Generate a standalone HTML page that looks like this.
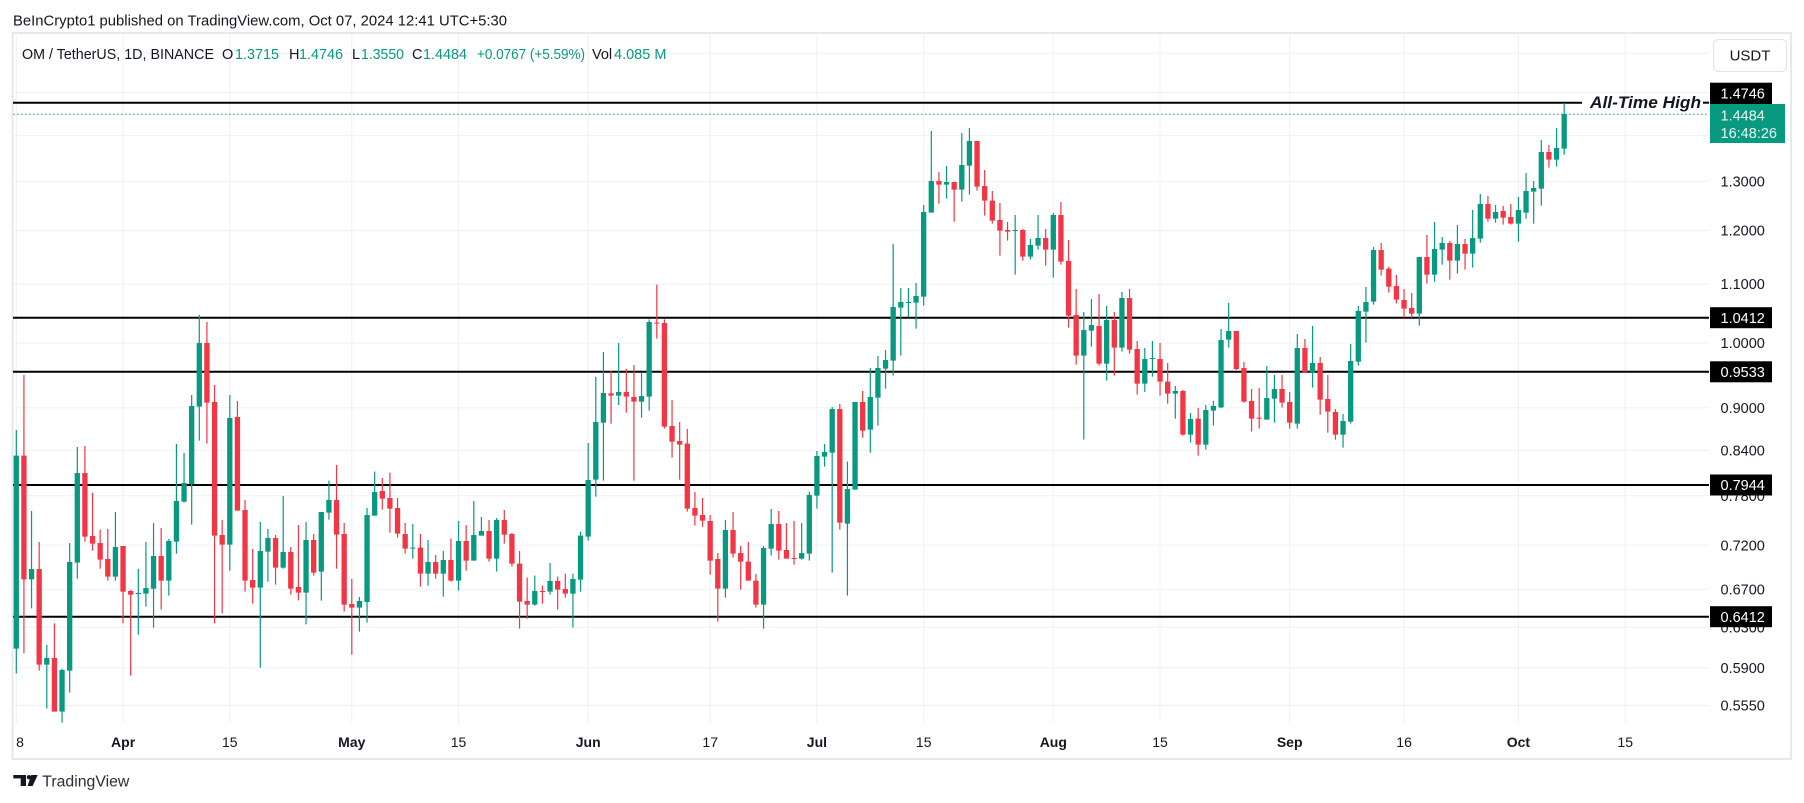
<!DOCTYPE html>
<html><head><meta charset="utf-8"><style>
html,body{margin:0;padding:0;background:#fff;}
svg{display:block;}
text{font-family:"Liberation Sans",sans-serif;}
.gw{stroke:#089981;stroke-width:0.157;fill:none}
.gb{stroke:#089981;stroke-width:0.695;fill:none}
.rw{stroke:#F23645;stroke-width:0.157;fill:none}
.rb{stroke:#F23645;stroke-width:0.695;fill:none}
.grid line{stroke:#eef0f4;stroke-width:1}
.pl{font-size:14.5px;fill:#131722}
.dl{font-size:14px;fill:#131722;text-anchor:middle}
.dm{font-size:14px;fill:#131722;text-anchor:middle;font-weight:bold}
.bx{font-size:14.5px;fill:#fff}
</style></head><body>
<svg width="1804" height="803" viewBox="0 0 1804 803" xmlns="http://www.w3.org/2000/svg">
<rect x="0" y="0" width="1804" height="803" fill="#fff"/>
<text x="13" y="25.5" font-size="15" fill="#131722" textLength="494" lengthAdjust="spacingAndGlyphs">BeInCrypto1 published on TradingView.com, Oct 07, 2024 12:41 UTC+5:30</text>

<!-- frame -->
<rect x="12.5" y="33" width="1778.5" height="726" fill="none" stroke="#e6e8ee" stroke-width="2"/>

<!-- grid -->
<g class="grid">
<line x1="13" x2="1709" y1="705.4" y2="705.4"/>
<line x1="13" x2="1709" y1="667.7" y2="667.7"/>
<line x1="13" x2="1709" y1="627.3" y2="627.3"/>
<line x1="13" x2="1709" y1="589.4" y2="589.4"/>
<line x1="13" x2="1709" y1="545.1" y2="545.1"/>
<line x1="13" x2="1709" y1="495.8" y2="495.8"/>
<line x1="13" x2="1709" y1="450.4" y2="450.4"/>
<line x1="13" x2="1709" y1="407.9" y2="407.9"/>
<line x1="13" x2="1709" y1="343" y2="343"/>
<line x1="13" x2="1709" y1="284.2" y2="284.2"/>
<line x1="13" x2="1709" y1="230.6" y2="230.6"/>
<line x1="13" x2="1709" y1="181.4" y2="181.4"/>
<line x1="13" x2="1709" y1="135.6" y2="135.6"/>
<line x1="13" x2="1709" y1="92.5" y2="92.5"/>
<line x1="13" x2="1709" y1="53.2" y2="53.2"/>
<line y1="34" y2="723" x1="16.3" x2="16.3"/>
<line y1="34" y2="723" x1="123.1" x2="123.1"/>
<line y1="34" y2="723" x1="229.8" x2="229.8"/>
<line y1="34" y2="723" x1="351.8" x2="351.8"/>
<line y1="34" y2="723" x1="458.5" x2="458.5"/>
<line y1="34" y2="723" x1="588.2" x2="588.2"/>
<line y1="34" y2="723" x1="710.2" x2="710.2"/>
<line y1="34" y2="723" x1="816.9" x2="816.9"/>
<line y1="34" y2="723" x1="923.7" x2="923.7"/>
<line y1="34" y2="723" x1="1053.3" x2="1053.3"/>
<line y1="34" y2="723" x1="1160" x2="1160"/>
<line y1="34" y2="723" x1="1289.7" x2="1289.7"/>
<line y1="34" y2="723" x1="1404.1" x2="1404.1"/>
<line y1="34" y2="723" x1="1518.4" x2="1518.4"/>
<line y1="34" y2="723" x1="1625.2" x2="1625.2"/>
</g>

<!-- legend -->
<g font-size="14.5">
<text x="22" y="59" fill="#131722" textLength="192" lengthAdjust="spacingAndGlyphs">OM / TetherUS, 1D, BINANCE</text>
<text x="222" y="59" fill="#131722">O</text><text x="235" y="59" fill="#089981" textLength="44" lengthAdjust="spacingAndGlyphs">1.3715</text>
<text x="289" y="59" fill="#131722">H</text><text x="299" y="59" fill="#089981" textLength="44" lengthAdjust="spacingAndGlyphs">1.4746</text>
<text x="352" y="59" fill="#131722">L</text><text x="361" y="59" fill="#089981" textLength="43" lengthAdjust="spacingAndGlyphs">1.3550</text>
<text x="412" y="59" fill="#131722">C</text><text x="423" y="59" fill="#089981" textLength="44" lengthAdjust="spacingAndGlyphs">1.4484</text>
<text x="477" y="59" fill="#089981" textLength="108" lengthAdjust="spacingAndGlyphs">+0.0767 (+5.59%)</text>
<text x="592" y="59" fill="#131722">Vol</text><text x="614" y="59" fill="#089981">4.085 M</text>
</g>

<!-- level lines -->
<line x1="13" x2="1582" y1="102.7" y2="102.7" stroke="#000" stroke-width="2"/>
<line x1="1703" x2="1709" y1="102.7" y2="102.7" stroke="#000" stroke-width="2"/>
<text x="1590" y="108" font-size="17" font-weight="bold" font-style="italic" fill="#131722" textLength="111" lengthAdjust="spacingAndGlyphs">All-Time High</text>
<line x1="13" x2="1709" y1="114.3" y2="114.3" stroke="#089981" stroke-width="1" stroke-dasharray="1.5 2.5"/>
<line x1="13" x2="1709" y1="317.7" y2="317.7" stroke="#000" stroke-width="2"/>
<line x1="13" x2="1709" y1="371.8" y2="371.8" stroke="#000" stroke-width="2"/>
<line x1="13" x2="1709" y1="485" y2="485" stroke="#000" stroke-width="2"/>
<line x1="13" x2="1709" y1="616.7" y2="616.7" stroke="#000" stroke-width="2"/>

<!-- candles chunk A -->
<g transform="translate(16.3,300) scale(7.625,0.333333)">
<path class="gw" d="M0 390V1120M2 633V925M4 1035V1225M6 1106V1268M7 729V1178M8 441V836M13 636V842M16 807V1004M17 726V920M18 669V983M20 717V887M21 432V761M22 459V608M23 285V674M24 45V422M28 285V812M32 666V1103M33 687V845M35 588V806M38 666V973"/>
<path class="gb" d="M0 467V1046M2 807V838M4 1074V1094M6 1110V1235M7 786V1112M8 519V788M13 741V830M16 879V882M17 864V881M18 768V866M20 723V842M21 603V725M22 549V605M23 318V552M24 129V320M28 354V734M32 753V863M33 714V755M35 756V803M38 720V878"/>
<path class="rw" d="M1 225V1060M3 726V1112M5 970V1235M9 438V725M10 578V752M11 689V806M12 687V842M14 738V970M15 870V1127M19 684V929M25 66V431M26 255V970M27 660V940M29 303V632M30 600V875M31 747V911M34 705V854M36 741V884M37 675V901"/>
<path class="rb" d="M1 467V838M3 807V1094M5 1074V1235M9 519V710M10 708V731M11 729V779M12 777V830M14 738V875M15 873V884M19 768V842M25 129V308M26 306V707M27 705V734M29 351V632M30 630V842M31 840V863M34 714V803M36 756V866M37 861V878"/>
</g>
<!-- chunk B -->
<g transform="translate(16.3,270) scale(7.625,0.333333)">
<path class="gw" d="M40 726V992M41 632V749M45 981V1085M46 714V1058M47 605V737M52 762V866M54 810V947M56 843V980M58 753V962M60 693V872M61 741V797M63 744V905M68 917V1007M70 879V974M73 911V1073M74 785V965M75 519V812M76 321V680M77 246V632"/>
<path class="gb" d="M40 726V905M41 690V728M45 993V1013M46 735V996M47 666V737M52 833V836M54 876V911M56 870V911M58 813V932M60 795V872M61 783V797M63 750V866M68 963V1004M70 933V965M73 927V971M74 797V929M75 630V800M76 456V629M77 369V458"/>
<path class="rw" d="M39 792V917M42 585V896M43 759V1025M44 927V1154M48 624V719M49 608V788M50 684V803M51 759V851M53 792V950M55 855V926M57 806V935M59 765V902M62 750V875M64 720V821M65 789V890M66 843V1076M67 923V1046M69 947V1001M71 920V1019M72 911V983"/>
<path class="rb" d="M39 810V908M42 690V794M43 792V1004M44 1002V1013M48 663V686M49 684V716M50 714V791M51 792V836M53 833V911M55 876V911M57 870V932M59 813V872M62 783V866M64 750V794M65 792V881M66 881V995M67 993V1004M69 963V966M71 933V959M72 957V971"/>
</g>
<!-- chunk C -->
<g transform="translate(16.3,120) scale(7.625,0.333333)">
<path class="gw" d="M79 669V855M82 759V893M83 598V872M93 1200V1433M98 1278V1526M99 1167V1307M103 1209V1319M104 1115V1322M105 993V1166M106 972V1040M107 861V1358M109 1025V1427M110 846V1109M112 744V998M113 708V917M114 690V806M115 372V767"/>
<path class="gb" d="M79 816V827M82 828V845M83 606V830M93 1230V1406M98 1284V1454M99 1212V1286M103 1299V1316M104 1125V1301M105 1008V1127M106 996V1010M107 867V998M109 1107V1211M110 846V1109M112 831V929M113 744V833M114 720V746M115 561V722"/>
<path class="rw" d="M78 752V911M80 747V878M81 735V1082M84 494V656M85 598V926M86 840V1013M87 906V1079M88 927V1175M89 1116V1217M90 1134V1220M91 1185V1364M92 1299V1505M94 1176V1313M95 1278V1409M96 1266V1382M97 1362V1463M100 1173V1319M101 1209V1316M102 1203V1334M108 852V1229M111 813V953"/>
<path class="rb" d="M78 820V827M80 816V830M81 831V845M84 608V611M85 609V920M86 918V965M87 963V974M88 971V1166M89 1164V1187M90 1185V1202M91 1203V1322M92 1317V1406M94 1230V1301M95 1299V1325M96 1325V1382M97 1382V1454M100 1212V1292M101 1290V1316M102 1314V1317M108 867V1208M111 846V932"/>
</g>
<!-- chunk D -->
<g transform="translate(16.3,120) scale(7.625,0.333333)">
<path class="gw" d="M116 504V707M117 504V591M118 489V626M119 255V557M120 33V278M122 138V236M124 39V245M125 24V224M131 285V464M133 357V419M134 285V389M136 279V473M140 576V959M141 537V680M143 558V782M145 516V695M148 684V816M149 663V770M152 798V896M154 879V968"/>
<path class="gb" d="M116 546V563M117 546V549M118 528V548M119 276V530M120 183V278M122 186V194M124 135V209M125 63V137M131 330V333M133 375V410M134 354V377M136 285V389M140 630V707M141 615V632M143 600V731M145 534V683M148 717V791M149 714V717M152 813V821M154 897V944"/>
<path class="rw" d="M121 156V251M123 186V305M126 63V212M127 150V287M128 213V311M129 249V407M130 306V362M132 327V422M135 327V437M137 246V434M138 360V623M139 507V734M142 522V737M144 576V767M146 507V701M147 663V824M150 669V827M151 729V851M153 810V947"/>
<path class="rb" d="M121 183V194M123 186V209M126 63V200M127 198V242M128 242V302M129 300V332M130 330V335M132 330V410M135 354V389M137 285V425M138 423V587M139 585V707M142 618V731M144 600V683M146 534V689M147 687V791M150 717V785M151 785V821M153 813V944"/>
</g>
<!-- chunk E -->
<g transform="translate(16.3,85) scale(7.625,0.333333)">
<path class="gw" d="M156 960V1094M157 948V1022M158 732V969M159 654V788M164 843V1004M165 870V1013M168 747V1031M170 723V908M174 987V1088M175 777V1016M176 663V842M177 606V773M178 486V659M184 516V722M186 411V590M187 456V539M189 420V566M191 375V548M192 327V473M194 360V413M197 336V470M198 264V401M199 288V416M200 165V362M202 129V245M203 54V209"/>
<path class="gb" d="M156 975V1079M157 963V977M158 765V967M159 738V764M164 939V1004M165 912V941M168 789V1016M170 834V862M174 1008V1049M175 828V1010M176 678V830M177 651V680M178 495V650M184 516V686M186 492V569M187 474V494M189 477V527M191 459V506M192 357V461M194 381V401M197 375V416M198 318V383M199 309V320M200 201V311M202 189V224M203 87V191"/>
<path class="rw" d="M155 969V1112M160 738V855M161 831V953M162 912V1040M163 909V1031M166 870V968M167 921V1031M169 762V862M171 816V989M172 870V1043M173 972V1064M179 474V572M180 545V623M181 570V656M182 612V698M183 624V698M185 450V596M188 468V584M190 462V554M193 333V410M195 363V419M196 357V419M201 180V248"/>
<path class="rb" d="M155 1001V1079M160 738V852M161 849V950M162 948V1001M163 998V1001M166 912V953M167 951V1013M169 789V862M171 834V944M172 942V980M173 981V1049M179 495V554M180 551V605M181 603V644M182 645V671M183 669V686M185 516V569M188 474V527M190 477V506M193 357V401M195 378V398M196 396V416M201 201V224"/>
</g>

<!-- price axis labels -->
<text class="pl" x="1720.5" y="186.3">1.3000</text>
<text class="pl" x="1720.5" y="235.6">1.2000</text>
<text class="pl" x="1720.5" y="289.2">1.1000</text>
<text class="pl" x="1720.5" y="347.9">1.0000</text>
<text class="pl" x="1720.5" y="412.8">0.9000</text>
<text class="pl" x="1720.5" y="455.3">0.8400</text>
<text class="pl" x="1720.5" y="501">0.7800</text>
<text class="pl" x="1720.5" y="550.3">0.7200</text>
<text class="pl" x="1720.5" y="594.6">0.6700</text>
<text class="pl" x="1720.5" y="632.5">0.6300</text>
<text class="pl" x="1720.5" y="672.9">0.5900</text>
<text class="pl" x="1720.5" y="710.6">0.5550</text>

<!-- USDT button -->
<rect x="1713.5" y="39.5" width="73" height="32" rx="5" fill="#fff" stroke="#e0e3eb" stroke-width="1"/>
<text x="1750" y="60.5" font-size="15" fill="#131722" text-anchor="middle">USDT</text>

<!-- level boxes -->
<rect x="1710" y="82.7" width="62" height="21.3" fill="#000"/>
<text class="bx" x="1720.5" y="98.6">1.4746</text>
<rect x="1710" y="104" width="75" height="39" fill="#089981"/>
<text class="bx" x="1720.5" y="120.3" fill-opacity="0.92">1.4484</text>
<text class="bx" x="1720.5" y="138" fill-opacity="0.92">16:48:26</text>
<rect x="1710" y="307.2" width="62" height="21" fill="#000"/>
<text class="bx" x="1720.5" y="322.9">1.0412</text>
<rect x="1710" y="361.3" width="62" height="21" fill="#000"/>
<text class="bx" x="1720.5" y="377">0.9533</text>
<rect x="1710" y="474.5" width="62" height="21" fill="#000"/>
<text class="bx" x="1720.5" y="490.2">0.7944</text>
<rect x="1710" y="606.2" width="62" height="21" fill="#000"/>
<text class="bx" x="1720.5" y="621.9">0.6412</text>

<!-- date labels -->
<text class="dl" x="20" y="747">8</text>
<text class="dm" x="123.1" y="747">Apr</text>
<text class="dl" x="229.8" y="747">15</text>
<text class="dm" x="351.8" y="747">May</text>
<text class="dl" x="458.5" y="747">15</text>
<text class="dm" x="588.2" y="747">Jun</text>
<text class="dl" x="710.2" y="747">17</text>
<text class="dm" x="816.9" y="747">Jul</text>
<text class="dl" x="923.7" y="747">15</text>
<text class="dm" x="1053.3" y="747">Aug</text>
<text class="dl" x="1160" y="747">15</text>
<text class="dm" x="1289.7" y="747">Sep</text>
<text class="dl" x="1404.1" y="747">16</text>
<text class="dm" x="1518.4" y="747">Oct</text>
<text class="dl" x="1625.2" y="747">15</text>

<!-- footer logo -->
<g fill="#131722">
<rect x="13.3" y="775" width="12.7" height="3.4"/>
<rect x="20.7" y="775" width="5.3" height="11"/>
<circle cx="29" cy="777.2" r="2.2"/>
<polygon points="31.2,775 37.7,775 32.6,786 27.6,786"/>
</g>
<text x="42.3" y="786.5" font-size="15.5" fill="#2a2e39" textLength="87" lengthAdjust="spacingAndGlyphs">TradingView</text>
</svg>
</body></html>
